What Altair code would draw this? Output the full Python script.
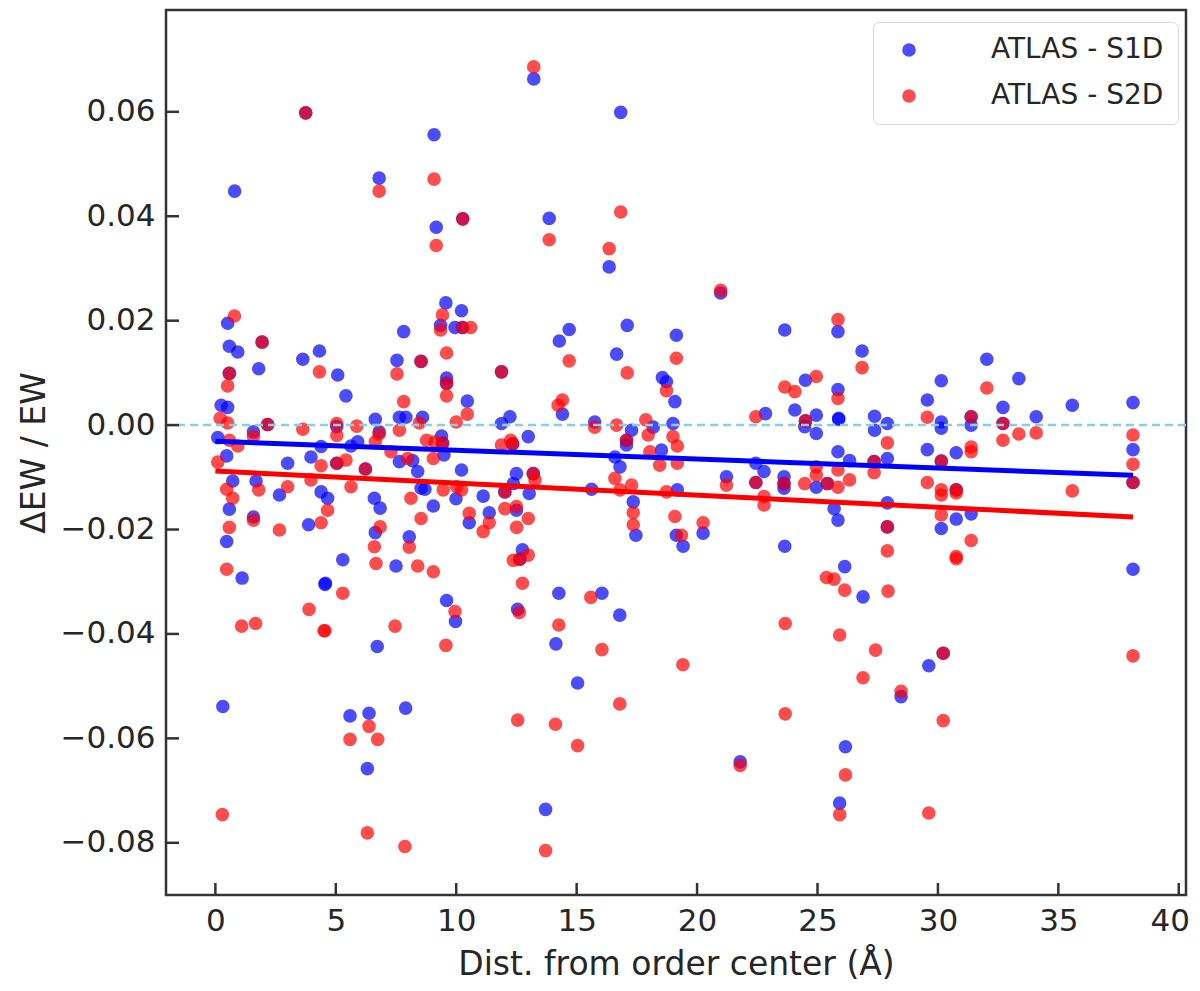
import altair as alt
import pandas as pd

# ---------------- data ----------------
LABELS = ["ATLAS - S1D", "ATLAS - S2D"]
COLORS = ["#0000ff", "#ff0000"]

S1D_X = [
    13.22, 0.80, 6.80, 9.08, 9.17, 13.86, 16.83, 16.35, 3.75, 10.27, 20.98,
    0.51, 0.58, 0.93, 1.94, 1.80, 0.58, 0.24, 0.51, 0.10, 0.47, 1.58, 2.17,
    0.72, 0.58, 0.47, 1.11, 1.69, 1.58, 2.66, 3.00, 3.63, 4.32, 5.08, 5.42,
    3.97, 4.39, 4.39, 4.66, 3.87, 5.04, 5.04, 5.91, 5.63, 6.23, 5.29, 4.57,
    6.64, 6.80, 6.60, 6.84, 6.64, 7.50, 7.82, 7.54, 8.54, 7.64, 7.91, 8.60,
    7.64, 8.19, 8.40, 8.05, 8.54,
    9.57, 10.22, 9.35, 10.26, 9.95, 9.60, 9.60, 11.88, 10.46, 12.23, 11.88,
    12.34, 12.99, 9.39, 9.43, 9.49, 10.22, 8.70, 9.99, 9.05, 10.54, 11.37,
    11.12, 12.02, 12.50, 12.37, 12.50, 13.03, 13.20, 12.75, 12.64, 14.28,
    14.69, 16.66, 17.10, 14.41, 15.75, 17.28, 17.07, 17.07, 18.18, 16.59,
    16.80, 15.62, 17.35, 17.46, 18.52, 18.56, 18.73, 19.08, 19.14, 19.00,
    19.14,
    23.64, 25.85, 26.85, 24.50, 22.84, 24.06, 24.50, 24.47, 24.95, 24.95,
    25.85, 25.88, 25.88, 27.37, 27.37, 27.90, 29.56, 29.56, 19.18, 19.42,
    20.25, 23.64, 21.22, 22.44, 22.44, 22.78, 23.61, 23.61, 23.61, 24.95,
    25.41, 25.85, 26.33, 25.69, 25.85, 27.35, 27.90, 27.90, 27.90, 26.13,
    32.03, 30.14, 33.36, 32.70, 34.08, 35.58, 38.10, 30.14, 30.14, 31.38,
    31.38, 32.70, 38.10, 38.10, 30.76, 30.14, 30.76, 30.14, 30.76, 31.38,
    38.10,
    0.31, 4.55, 5.59, 6.38, 6.31, 6.72, 7.90, 9.60, 9.97, 12.55, 14.26,
    14.14, 13.71, 15.04, 16.05, 16.79, 26.89, 29.62, 30.22, 28.47, 26.16,
    21.79, 25.92,
]
S1D_Y = [
    0.0663, 0.0448, 0.0473, 0.0556, 0.0379, 0.0396, 0.0599, 0.0303, 0.0598, 0.0395, 0.0253,
    0.0195, 0.0151, 0.0140, 0.0159, 0.0108, 0.0099, 0.0038, 0.0034, -0.0024, -0.0059, -0.0013, 0.0001,
    -0.0107, -0.0161, -0.0223, -0.0293, -0.0107, -0.0176, -0.0134, -0.0073, 0.0126, 0.0142, 0.0096, 0.0056,
    -0.0061, -0.0041, -0.0128, -0.0140, -0.0191, -0.0003, -0.0073, -0.0032, -0.0040, -0.0084, -0.0258, -0.0303,
    0.0011, -0.0013, -0.0140, -0.0159, -0.0206, -0.0270, 0.0179, 0.0124, 0.0122, 0.0015, 0.0015, 0.0015,
    -0.0070, -0.0068, -0.0089, -0.0214, -0.0121,
    0.0234, 0.0219, 0.0191, 0.0187, 0.0187, 0.0090, 0.0080, 0.0102, 0.0046, 0.0016, 0.0003,
    -0.0036, -0.0022, -0.0021, -0.0035, -0.0057, -0.0086, -0.0123, -0.0141, -0.0155, -0.0187, -0.0168,
    -0.0136, -0.0128, -0.0093, -0.0112, -0.0163, -0.0131, -0.0093, -0.0239, -0.0257, 0.0161,
    0.0183, 0.0136, 0.0191, 0.0021, 0.0006, -0.0010, -0.0029, -0.0038, -0.0004, -0.0061,
    -0.0080, -0.0123, -0.0147, -0.0211, -0.0048, 0.0091, 0.0083, 0.0045, 0.0172, 0.0003,
    -0.0211,
    0.0182, 0.0179, 0.0142, 0.0086, 0.0022, 0.0029, 0.0008, -0.0003, 0.0019, -0.0016,
    0.0068, 0.0013, 0.0011, 0.0017, -0.0010, 0.0003, 0.0048, -0.0047, -0.0124, -0.0232,
    -0.0207, -0.0232, -0.0099, -0.0110, -0.0073, -0.0089, -0.0099, -0.0112, -0.0121, -0.0119,
    -0.0112, -0.0051, -0.0068, -0.0160, -0.0182, -0.0070, -0.0064, -0.0149, -0.0195, -0.0271,
    0.0126, 0.0085, 0.0089, 0.0034, 0.0016, 0.0038, 0.0043, 0.0006, -0.0006, 0.0016,
    0.0000, 0.0003, -0.0047, -0.0110, -0.0053, -0.0069, -0.0124, -0.0198, -0.0180, -0.0170,
    -0.0276,
    -0.0539, -0.0305, -0.0557, -0.0552, -0.0658, -0.0424, -0.0542, -0.0336, -0.0376, -0.0353, -0.0322,
    -0.0419, -0.0736, -0.0494, -0.0322, -0.0364, -0.0329, -0.0461, -0.0437, -0.0520, -0.0616,
    -0.0645, -0.0724,
]

S2D_X = [
    13.22, 6.80, 9.08, 9.17, 13.86, 16.83, 16.35, 3.75, 10.27, 20.98,
    0.79, 1.94, 0.58, 0.51, 0.20, 0.51, 0.58, 0.93, 0.10, 1.58, 2.17, 0.47,
    0.72, 0.58, 0.47, 1.80, 1.58, 2.66, 3.00, 4.32, 3.63, 4.39, 3.97, 4.66,
    4.39, 5.04, 5.04, 5.04, 5.42, 5.63, 5.87, 6.23, 5.29, 6.80, 6.64, 6.84,
    6.60, 6.67, 7.54, 7.82, 8.54, 7.64, 8.47, 7.29, 7.98, 8.12, 8.05, 8.40,
    8.54,
    9.43, 9.35, 10.26, 10.60, 9.60, 9.60, 9.60, 11.88, 10.46, 10.00, 11.88,
    12.26, 12.34, 8.77, 9.12, 9.43, 9.05, 10.02, 10.22, 9.46, 10.54, 11.37,
    11.12, 12.02, 12.02, 12.50, 12.99, 12.51, 13.20, 13.27, 12.64, 12.37,
    12.99, 12.75, 9.05, 14.69, 17.10, 14.41, 14.23, 15.75, 16.66, 17.07,
    17.87, 17.97, 16.59, 16.80, 17.28, 17.35, 17.35, 18.04, 18.45, 18.73,
    18.73, 19.14, 19.00, 19.08,
    25.85, 26.85, 23.64, 24.06, 24.95, 22.44, 24.50, 25.85, 27.90, 29.56,
    29.56, 19.18, 19.18, 19.35, 20.25, 21.22, 22.44, 22.78, 22.78, 23.61,
    24.47, 24.95, 24.95, 25.41, 25.85, 26.33, 25.85, 27.35, 27.35, 27.90,
    27.90, 25.37, 25.69, 26.13, 27.93,
    32.03, 31.38, 32.70, 32.70, 33.36, 34.08, 38.10, 38.10, 38.10, 35.58,
    30.14, 31.38, 31.38, 30.14, 30.14, 30.76, 30.76, 30.14, 31.38, 30.76,
    30.76,
    0.29, 1.09, 1.67, 3.89, 4.51, 4.55, 5.59, 6.38, 6.74, 6.31, 7.46, 7.87,
    9.95, 9.57, 12.55, 12.62, 14.26, 14.12, 13.71, 15.04, 15.59, 16.05,
    16.79, 23.66, 25.92, 27.41, 19.41, 30.22, 26.89, 28.47, 23.66, 30.22,
    26.16, 21.79, 25.92, 29.62, 38.10,
]
S2D_Y = [
    0.0686, 0.0448, 0.0471, 0.0344, 0.0355, 0.0408, 0.0338, 0.0598, 0.0395, 0.0258,
    0.0209, 0.0159, 0.0099, 0.0075, 0.0013, 0.0004, -0.0029, -0.0040, -0.0071, -0.0022, 0.0001, -0.0123,
    -0.0140, -0.0196, -0.0276, -0.0124, -0.0182, -0.0201, -0.0118, 0.0102, -0.0008, -0.0078, -0.0105, -0.0163,
    -0.0187, 0.0003, -0.0020, -0.0073, -0.0067, -0.0118, -0.0002, -0.0084, -0.0322, -0.0017, -0.0032, -0.0195,
    -0.0233, -0.0265, 0.0098, 0.0045, 0.0122, -0.0010, 0.0004, -0.0051, -0.0064, -0.0140, -0.0234, -0.0270,
    -0.0179,
    0.0211, 0.0182, 0.0187, 0.0187, 0.0138, 0.0080, 0.0056, 0.0102, 0.0021, 0.0006, -0.0038,
    -0.0029, -0.0036, -0.0029, -0.0032, -0.0035, -0.0064, -0.0118, -0.0124, -0.0124, -0.0169, -0.0187,
    -0.0204, -0.0128, -0.0160, -0.0156, -0.0179, -0.0196, -0.0093, -0.0105, -0.0257, -0.0259,
    -0.0249, -0.0303, -0.0281, 0.0123, 0.0100, 0.0048, 0.0038, -0.0004, 0.0000, -0.0029,
    0.0010, -0.0019, -0.0102, -0.0124, -0.0115, -0.0168, -0.0191, -0.0051, -0.0077, -0.0128,
    0.0066, 0.0128, -0.0022, -0.0175,
    0.0202, 0.0110, 0.0073, 0.0064, 0.0093, 0.0016, 0.0008, 0.0051, -0.0034, 0.0015,
    -0.0110, -0.0040, -0.0073, -0.0211, -0.0187, -0.0115, -0.0110, -0.0137, -0.0153, -0.0112,
    -0.0112, -0.0080, -0.0096, -0.0112, -0.0086, -0.0105, -0.0119, -0.0070, -0.0091, -0.0195,
    -0.0241, -0.0292, -0.0295, -0.0316, -0.0318,
    0.0071, 0.0016, 0.0003, -0.0029, -0.0017, -0.0015, -0.0019, -0.0075, -0.0110, -0.0126,
    -0.0069, -0.0042, -0.0051, -0.0124, -0.0134, -0.0124, -0.0130, -0.0172, -0.0221, -0.0252,
    -0.0256,
    -0.0746, -0.0385, -0.0380, -0.0353, -0.0394, -0.0394, -0.0602, -0.0577, -0.0602, -0.0781, -0.0385, -0.0807,
    -0.0357, -0.0422, -0.0565, -0.0359, -0.0383, -0.0573, -0.0815, -0.0614, -0.0330, -0.0430,
    -0.0534, -0.0380, -0.0402, -0.0431, -0.0459, -0.0437, -0.0484, -0.0510, -0.0553, -0.0566,
    -0.0670, -0.0652, -0.0746, -0.0743, -0.0442,
]

# linear fits (end points)
FIT_X = [0.0, 38.1]
FIT_S1D = [-0.0031, -0.0096]
FIT_S2D = [-0.0088, -0.0176]

X_TICKS = [0, 5, 10, 15, 20, 25, 30, 35, 40]
Y_TICKS = [-0.08, -0.06, -0.04, -0.02, 0.00, 0.02, 0.04, 0.06]
X_DOMAIN = [-2.05, 40.3]
Y_DOMAIN = [-0.090, 0.0795]
ZERO = [0.0]

X_TITLE = "Dist. from order center (Å)"
Y_TITLE = "ΔEW / EW"

# ---------------- layout / style ----------------
PLOT_W, PLOT_H = 1020, 885
FONT = "DejaVu Sans"
TXT = "#262626"
FRAME = "#333333"

assert len(S1D_X) == len(S1D_Y) and len(S2D_X) == len(S2D_Y)

pts = pd.DataFrame({
    "x": S1D_X + S2D_X,
    "y": S1D_Y + S2D_Y,
    "series": [LABELS[0]] * len(S1D_X) + [LABELS[1]] * len(S2D_X),
})

xscale = alt.Scale(domain=X_DOMAIN, nice=False, zero=False)
yscale = alt.Scale(domain=Y_DOMAIN, nice=False, zero=False)

LAST_X = X_TICKS[-1]


def ax_x():
    return alt.Axis(values=X_TICKS, title=X_TITLE, labelPadding=11, titlePadding=12,
                    labelOffset={"condition": {"test": f"datum.value == {LAST_X}", "value": -9},
                                 "value": 0})


def ax_y():
    return alt.Axis(values=Y_TICKS, format=".2f", title=Y_TITLE, labelPadding=11, titlePadding=9)


points = alt.Chart(pts).mark_circle(size=185, opacity=0.7).encode(
    x=alt.X("x:Q", scale=xscale, axis=ax_x()),
    y=alt.Y("y:Q", scale=yscale, axis=ax_y()),
    color=alt.Color("series:N",
                    scale=alt.Scale(domain=LABELS, range=COLORS),
                    legend=alt.Legend(title=None, orient="none", legendX=707, legendY=12,
                                      padding=14, symbolOffset=8, labelOffset=68,
                                      rowPadding=18, labelFontSize=28, labelFont=FONT,
                                      labelColor=TXT, labelLimit=500,
                                      symbolSize=185, symbolType="circle",
                                      symbolOpacity=0.7, symbolStrokeWidth=0,
                                      fillColor="white", strokeColor="#d6d6d6",
                                      cornerRadius=6)),
)

zero = alt.Chart(pd.DataFrame({"y": ZERO})).mark_rule(
    color="#87ceeb", strokeDash=[8, 5], strokeWidth=2.5
).encode(y=alt.Y("y:Q", scale=yscale, axis=ax_y()))

fit_b = alt.Chart(pd.DataFrame({"x": FIT_X, "y": FIT_S1D})).mark_line(
    color=COLORS[0], strokeWidth=5
).encode(x=alt.X("x:Q", scale=xscale, axis=ax_x()), y=alt.Y("y:Q", scale=yscale, axis=ax_y()))

fit_r = alt.Chart(pd.DataFrame({"x": FIT_X, "y": FIT_S2D})).mark_line(
    color=COLORS[1], strokeWidth=5
).encode(x=alt.X("x:Q", scale=xscale, axis=ax_x()), y=alt.Y("y:Q", scale=yscale, axis=ax_y()))

xt = alt.Chart(pd.DataFrame({"x": X_TICKS})).mark_rule(color=FRAME, strokeWidth=2.5).encode(
    x=alt.X("x:Q", scale=xscale, axis=ax_x()),
    y=alt.value(PLOT_H), y2=alt.value(PLOT_H - 12),
)
yt = alt.Chart(pd.DataFrame({"y": Y_TICKS})).mark_rule(color=FRAME, strokeWidth=2.5).encode(
    y=alt.Y("y:Q", scale=yscale, axis=ax_y()),
    x=alt.value(0), x2=alt.value(13),
)

chart = alt.layer(points, zero, fit_b, fit_r, xt, yt).properties(
    width=PLOT_W, height=PLOT_H,
    padding={"left": 158, "top": 2, "right": 6, "bottom": 88},
    autosize=alt.AutoSizeParams(type="none"),
    background="white",
).configure_view(
    stroke=FRAME, strokeWidth=2.5
).configure_axis(
    labelFont=FONT, labelFontSize=31, labelColor=TXT,
    titleFont=FONT, titleFontSize=33, titleFontWeight="normal", titleColor=TXT,
    ticks=False, tickSize=0, domain=False, grid=False,
)

chart.save("out.html", embed_options={"renderer": "svg", "actions": False})
